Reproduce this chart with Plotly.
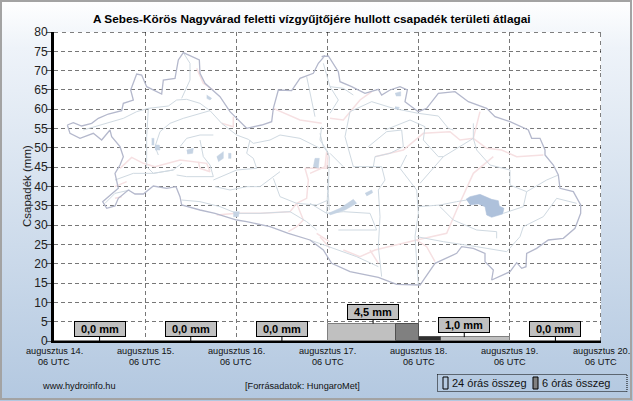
import base64
import plotly.graph_objects as go

# chart values
day_starts = [0, 1, 2, 3, 4, 5]
day_totals = [0.0, 0.0, 0.0, 4.5, 1.0, 0.0]
six_hour_starts = [3.75, 4.0]
six_hour_totals = [4.5, 1.0]
day_ticks = [0, 1, 2, 3, 4, 5, 6]
day_labels = ["augusztus 14.", "augusztus 15.", "augusztus 16.", "augusztus 17.",
              "augusztus 18.", "augusztus 19.", "augusztus 20."]
mm_ticks = list(range(0, 85, 5))

W, H = 633, 401
L, R, T, B = 54, 601, 32, 341
FONT = "Liberation Sans"

# background map (crop coordinates, see left()/right())
outline_left1 = [(82,255),(100,248),(125,258),(155,250),(175,235),(205,222),(245,212),(250,190),(280,180),
    (272,150),(290,102),(305,105),(320,140),(365,162),(370,120),(405,115),(415,60),(430,38),(478,60),
    (480,100),(495,130),(540,170),(570,215),(590,235),(620,265),(665,255),(695,245),(700,205),(715,150),
    (755,152),(780,115),(820,100),(835,70),(855,47)]
outline_right = [(35,50),(55,48),(70,70),(85,95),(90,125),(125,140),(165,160),(205,148),(215,165),(240,150),
    (270,140),(292,150),(285,185),(325,215),(350,205),(385,160),(435,155),(475,185),(530,205),(555,230),
    (600,245),(655,270),(665,295),(690,295),(705,330),(705,345),(730,375),(745,405),(750,445),(790,455),
    (812,495),(812,520),(795,565),(760,595),(715,600),(680,625),(650,640),(648,680),(635,685),(620,668),
    (600,695),(545,720),(550,690),(525,665),(525,640),(490,625),(455,620),(440,640),(375,670),(330,735),
    (260,733),(205,712),(120,695),(65,670),(40,630),(0,600)]
outline_left2 = [(810,600),(745,580),(690,560),(620,545),(590,540),(525,520),(480,510),(425,495),(420,470),
    (408,440),(380,445),(340,438),(310,462),(285,462),(265,450),(235,475),(225,498),(200,505),(188,485),
    (235,445),(225,400),(240,375),(250,350),(240,320),(215,290),(210,270),(185,300),(160,280),(120,295),
    (90,280),(82,255)]

rivers_left = [
    [(130,270),(200,250),(250,235),(290,215),(325,205),(385,198),(410,180),(440,178),(480,190),(510,212)],
    [(510,212),(430,235),(390,250),(360,275),(345,320),(355,345)],
    [(325,205),(320,290),(320,380),(340,400),(400,390),(425,370)],
    [(510,212),(545,250),(590,285),(625,298),(640,310),(690,300),(720,285),(780,295),(840,325)],
    [(430,38),(450,70),(450,120),(425,175)],
    [(420,320),(440,295),(480,285),(520,285)],
    [(480,300),(490,350),(510,375),(520,410),(440,410),(410,405)],
    [(630,300),(620,340),(640,355),(650,385),(590,390),(540,410),(520,420)],
    [(525,440),(570,450),(620,440),(660,440),(720,395)],
    [(700,415),(720,470),(770,490),(830,495),(865,480)],
    [(425,480),(480,485),(540,500),(590,520),(660,520),(750,515),(800,545),(830,570)],
    [(225,420),(280,400),(340,400),(400,390)],
    [(195,490),(225,460),(270,450)],
    [(800,110),(810,160),(825,230)],
    [(845,260),(840,300),(860,330),(868,350),(865,460),(868,510)],
]
rivers_right = [
    [(40,70),(60,140),(85,180),(60,220)],
    [(60,140),(100,145),(130,165)],
    [(120,215),(185,185),(250,205),(325,220),(385,228),(415,265),(430,270)],
    [(120,215),(105,290),(130,380),(215,380),(225,420),(205,450),(210,530),(205,620),(215,710)],
    [(225,270),(300,240),(345,260),(340,300),(385,350),(400,350),(490,295),(490,250)],
    [(175,320),(230,275),(275,270),(280,320),(240,340),(195,350),(190,380)],
    [(290,345),(270,385),(320,450),(325,520),(315,590),(325,735)],
    [(330,430),(360,395),(400,350)],
    [(325,500),(390,495),(440,485),(470,480)],
    [(390,500),(430,540),(500,570),(560,575),(560,595)],
    [(320,590),(400,605),(500,620),(590,635),(630,590),(640,560),(700,530),(740,475),(800,490)],
    [(580,520),(640,500),(650,455),(710,420),(745,405)],
    [(650,455),(600,435),(600,390),(540,375),(500,330),(490,295)],
    [(55,410),(50,520),(100,515),(180,520),(200,570),(120,570),(85,570)],
    [(50,520),(0,490)],
    [(0,600),(70,625),(140,650),(205,680)],
    [(60,340),(100,380)],
    [(30,280),(40,320),(55,340)],
]
borders_left = [
    [(240,385),(275,352),(310,370),(345,380),(420,360),(470,365),(500,370),(510,395),(480,385),(475,365)],
    [(470,85),(490,130),(520,150)],
    [(545,250),(580,260),(580,230)],
    [(700,205),(780,240),(845,250)],
    [(225,440),(260,425)],
    [(225,475),(245,470)],
    [(795,385),(860,385),(865,340)],
    [(795,385),(805,420),(800,475),(770,490),(750,515),(660,520),(590,520),(530,525)],
    [(770,490),(790,540),(770,560),(745,575)],
    [(830,580),(868,605)],
]
borders_right = [
    [(60,235),(100,240),(150,180),(185,155)],
    [(195,350),(280,330),(340,280),(420,275),(450,300),(490,295),(510,215)],
    [(490,295),(530,325),(575,330),(620,350),(700,345)],
    [(550,350),(490,400),(440,510),(410,580),(320,600),(195,630),(150,650),(100,630)],
    [(320,600),(350,620),(375,665)],
    [(30,590),(60,625)],
    [(0,400),(45,380),(50,335)],
    [(180,630),(205,670)],
]
lakes_left = [
    [(345,315),(358,315),(360,330),(345,330)],
    [(440,330),(460,325),(458,340),(442,342)],
    [(530,350),(550,335),(550,355),(535,365)],
    [(565,340),(573,340),(573,355),(565,355)],
    [(820,380),(825,355),(838,355),(835,385)],
    [(335,295),(342,295),(342,315),(335,315)],
    [(580,515),(598,515),(595,530),(580,530)],
    [(500,165),(515,175),(510,180),(500,175)],
]
lakes_right = [
    [(55,520),(90,505),(130,478),(140,490),(105,510),(60,525)],
    [(165,460),(185,450),(188,458),(170,468)],
    [(255,160),(272,155),(272,168),(258,168)],
    [(255,200),(268,202),(265,208),(255,206)],
]
big_lake = [(468,478),(480,470),(510,463),(525,470),(545,478),(565,482),(568,498),(582,505),(578,522),
            (545,532),(530,525),(525,500),(505,492),(480,495)]


def to_axis(pts, ox):
    xs = [((ox + a / 3) - L) / (R - L) * 6 for a, b in pts]
    ys = [(B - (40 + b / 3)) / (B - T) * 80 for a, b in pts]
    return xs, ys

def left(pts):
    return to_axis(pts, 40)

def right(pts):
    return to_axis(pts, 310)

def px(x):
    return (x - L) / (R - L)

def py(y):
    return (B - y) / (B - T)

def map_line(xy, color, width):
    return go.Scatter(x=xy[0], y=xy[1], mode="lines", line=dict(color=color, width=width),
                      hoverinfo="skip", showlegend=False)

def map_lake(xy, color):
    return go.Scatter(x=xy[0], y=xy[1], mode="lines", fill="toself", fillcolor=color,
                      line=dict(color=color, width=0.5), hoverinfo="skip", showlegend=False)


fig = go.Figure()

for seg in borders_left:
    fig.add_trace(map_line(left(seg), "#f6e0e2", 1.5))
for seg in borders_right:
    fig.add_trace(map_line(right(seg), "#f6e0e2", 1.5))
for seg in rivers_left:
    fig.add_trace(map_line(left(seg), "#cfd9e1", 1))
for seg in rivers_right:
    fig.add_trace(map_line(right(seg), "#cfd9e1", 1))
for seg in lakes_left:
    fig.add_trace(map_lake(left(seg), "#c5d3e3"))
for seg in lakes_right:
    fig.add_trace(map_lake(right(seg), "#c5d3e3"))
fig.add_trace(map_lake(right(big_lake), "#aec1db"))

ol = left(outline_left1)
orr = right(outline_right)
ol2 = left(outline_left2)
fig.add_trace(map_line((ol[0] + orr[0] + ol2[0], ol[1] + orr[1] + ol2[1]), "#b4b8cc", 1.3))

# bars
fig.add_trace(go.Bar(x=[d + 0.5 for d in day_starts], y=day_totals, width=1,
                     marker=dict(color="#c0c0c0", line=dict(color="#808080", width=1)),
                     name="24 órás összeg", showlegend=False))
fig.add_trace(go.Bar(x=[d + 0.125 for d in six_hour_starts], y=six_hour_totals, width=0.25,
                     marker=dict(color=["#808080", "#303030"], line=dict(color="#505050", width=1)),
                     name="6 órás összeg", showlegend=False))

# value boxes
for d, v in zip(day_starts, day_totals):
    fig.add_annotation(x=d + 0.5, y=v, xref="x", yref="y", ax=0, ay=-12,
                       text=f"{v:.1f} mm".replace(".", ","), showarrow=True, arrowhead=0,
                       arrowwidth=1, arrowcolor="#000000", width=50, height=14, borderpad=0,
                       bgcolor="#c0c0c0", bordercolor="#000000", borderwidth=1,
                       font=dict(family=FONT, size=11, color="#000000", weight="bold"))

# plot frame, window frame
shapes = [
    dict(type="rect", xref="x", yref="y", x0=0, x1=6, y0=0, y1=80,
         line=dict(width=0), fillcolor="#ffffff", layer="below"),
    dict(type="line", xref="x", yref="y", x0=0, x1=6, y0=80, y1=80,
         line=dict(color="#000000", width=1, dash="4px,4px"), layer="above"),
    dict(type="line", xref="x", yref="y", x0=6, x1=6, y0=0, y1=80,
         line=dict(color="#000000", width=1, dash="4px,4px"), layer="above"),
    dict(type="rect", xref="paper", yref="paper", x0=px(1), x1=px(631), y0=py(1), y1=py(399),
         line=dict(color="#a3a3a3", width=2), layer="below"),
    dict(type="rect", xref="paper", yref="paper", x0=px(437.5), x1=px(627), y0=py(374.5), y1=py(391.5),
         line=dict(color="#000000", width=1, dash="1px,1px"), layer="above"),
    dict(type="rect", xref="paper", yref="paper", x0=px(443), x1=px(448), y0=py(377), y1=py(389),
         line=dict(color="#000000", width=1), fillcolor="rgba(0,0,0,0)", layer="above"),
    dict(type="rect", xref="paper", yref="paper", x0=px(533), x1=px(538), y0=py(377), y1=py(389),
         line=dict(color="#000000", width=1), fillcolor="#808080", layer="above"),
]

def note(text, x, y, size, anchor="left", color="#111111", weight="normal", angle=0):
    fig.add_annotation(x=px(x), y=py(y), xref="paper", yref="paper", text=text, showarrow=False,
                       xanchor=anchor, yanchor="middle", textangle=angle,
                       font=dict(family=FONT, size=size, color=color, weight=weight))

note("A Sebes-Körös Nagyvárad feletti vízgyűjtőjére hullott csapadék területi átlagai",
     311, 19, 11.8, "center", "#000000", "bold")
note("Csapadék (mm)", 27, 186, 11.5, "center", "#222222", angle=-90)
note("www.hydroinfo.hu", 40, 386, 9.2)
note("[Forrásadatok: HungaroMet]", 243, 386, 9.2)
note("24 órás összeg", 450, 383, 11)
note("6 órás összeg", 540, 383, 11)
for t, lab in zip(day_ticks, day_labels):
    note(lab, L + t * (R - L) / 6, 350.5, 9.2, "center")
    note("06 UTC", L + t * (R - L) / 6, 362, 9.2, "center")

# page gradient
svg = ('<svg xmlns="http://www.w3.org/2000/svg" width="633" height="401">'
       '<defs><linearGradient id="g" x1="0" y1="0" x2="0" y2="1">'
       '<stop offset="0" stop-color="#ffffff"/><stop offset="0.12" stop-color="#eef3f9"/>'
       '<stop offset="1" stop-color="#b3c8e0"/></linearGradient></defs>'
       '<rect width="633" height="401" fill="url(#g)"/></svg>')
bg = "data:image/svg+xml;base64," + base64.b64encode(svg.encode()).decode()

fig.update_layout(
    width=W, height=H, margin=dict(l=L, r=W - R, t=T, b=H - B), autosize=False,
    paper_bgcolor="#ffffff", plot_bgcolor="#ffffff", barmode="overlay", showlegend=False,
    bargap=0, shapes=shapes,
    images=[dict(source=bg, xref="paper", yref="paper", x=px(0), y=py(0), sizex=W / (R - L),
                 sizey=H / (B - T), sizing="stretch", xanchor="left", yanchor="top", layer="below")],
    xaxis=dict(range=[0, 6], tickvals=day_ticks, showticklabels=False, ticks="",
               showgrid=True, gridcolor="#777777", griddash="4px,3px", gridwidth=1, zeroline=False,
               showline=True, linecolor="#000000", linewidth=2),
    yaxis=dict(range=[0, 80], tickvals=mm_ticks, ticks="outside", ticklen=5, tickcolor="#555555",
               tickfont=dict(family=FONT, size=12, color="#222222"), ticklabelstandoff=-4,
               showgrid=True, gridcolor="#777777", griddash="4px,3px", gridwidth=1, zeroline=False,
               showline=True, linecolor="#000000", linewidth=3),
)

fig.write_html("out.html", config=dict(displayModeBar=False),
               post_script="document.body.style.margin='0';document.body.style.overflow='hidden';")
